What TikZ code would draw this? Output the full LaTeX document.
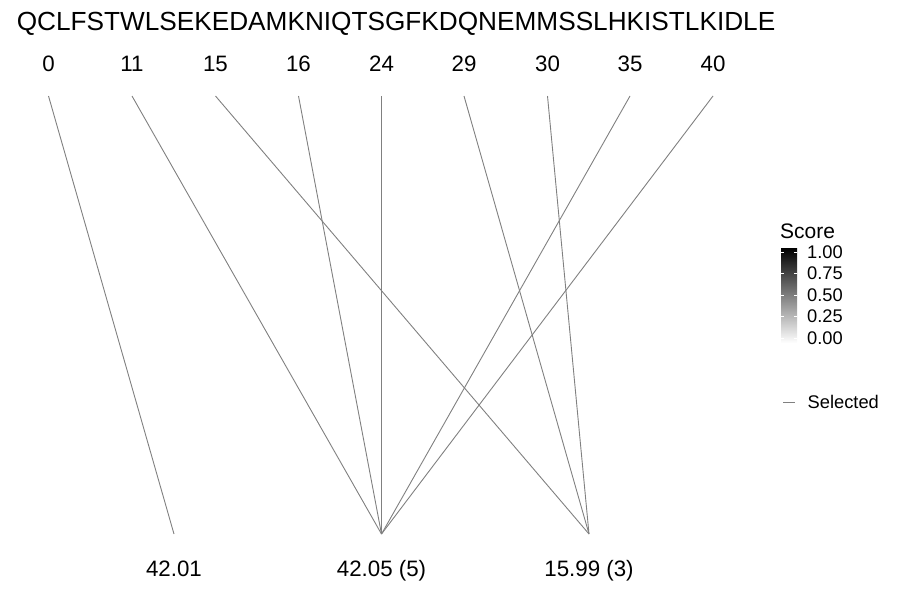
\documentclass[tikz,border=0pt]{standalone}
\usepackage{fontspec}
\setmainfont{Liberation Sans}
\begin{document}
\begin{tikzpicture}[x=1pt,y=-1pt,
  seqtext/.style={font=\fontsize{26.2}{30}\selectfont,anchor=base,inner sep=0pt},
  postext/.style={font=\fontsize{22.3}{26}\selectfont,anchor=base,inner sep=0pt},
  masstext/.style={font=\fontsize{22.3}{26}\selectfont,anchor=base,inner sep=0pt},
  legtitle/.style={font=\fontsize{21}{24}\selectfont,anchor=base west,inner sep=0pt},
  legtext/.style={font=\fontsize{18.3}{21}\selectfont,anchor=west,inner sep=0pt},
  link/.style={draw={rgb,255:red,128;green,128;blue,128},line width=0.9pt}]
\useasboundingbox (0,0) rectangle (900,600);
\node[seqtext] (seq) at (396,30) {QCLFSTWLSEKEDAMKNIQTSGFKDQNEMMSSLHKISTLKIDLE};
% positions
\foreach \n/\x in {0/48.5,11/132,15/215.5,16/298.5,24/381.5,29/464,30/547.5,35/630,40/713}{
  \node[postext] (p\n) at (\x,71) {\n};
  \coordinate (t\n) at (\x,96);
}
% masses
\coordinate (b1) at (174,534);
\coordinate (b2) at (381.5,534);
\coordinate (b3) at (589,534);
\node[masstext] (m1) at (174,576) {42.01};
\node[masstext] (m2) at (381.5,576) {42.05 (5)};
\node[masstext] (m3) at (589,576) {15.99 (3)};
% links
\draw[link] (t0) -- (b1);
\foreach \n in {11,16,24,35,40}{\draw[link] (t\n) -- (b2);}
\foreach \n in {15,29,30}{\draw[link] (t\n) -- (b3);}
% legend
\node[legtitle] (lt) at (780,238) {Score};
\shade[top color=black,bottom color=white,middle color=gray] (781,248) rectangle (797,343);
\node[inner sep=0pt,minimum width=16pt,minimum height=95pt] (cbar) at (789,295.5) {};
\foreach \v/\y in {1.00/252,0.75/273.5,0.50/295,0.25/316.5,0.00/338}{
  \draw[white,line width=0.5pt] (781,\y) -- (784,\y) (794,\y) -- (797,\y);
  \node[legtext] at (807,\y) {\v};
}
\coordinate (sa) at (783,402);
\coordinate (sb) at (795,402);
\draw[link] (sa) -- (sb);
\node[legtext] (sel) at (807.5,402) {Selected};
\end{tikzpicture}
\end{document}
